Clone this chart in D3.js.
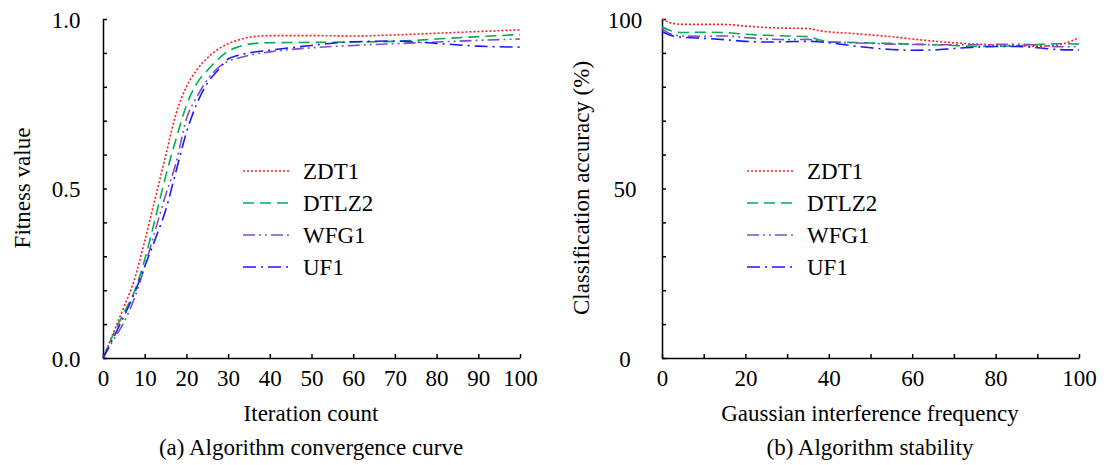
<!DOCTYPE html>
<html>
<head>
<meta charset="utf-8">
<script src="https://cdn.jsdelivr.net/npm/d3@7"></script>
<style>
  body { margin: 0; background: #fff; }
  svg text { font-family: "Liberation Serif", "Times New Roman", serif; fill: #000; }
</style>
</head>
<body>
<div id="chart"></div>
<script>
// (a) convergence
const iterX = [0, 2.5, 5, 7.5, 10, 12.5, 15, 17.5, 20, 22.5, 25, 27.5, 30, 32.5, 35, 40, 50, 60, 70, 80, 90, 100];
const zdt1Fit = [0, 0.075, 0.15, 0.23, 0.345, 0.47, 0.595, 0.72, 0.80, 0.85, 0.885, 0.91, 0.927, 0.938, 0.946, 0.951, 0.951, 0.950, 0.953, 0.958, 0.963, 0.968];
const dtlz2Fit = [0, 0.07, 0.133, 0.195, 0.29, 0.41, 0.535, 0.645, 0.745, 0.81, 0.848, 0.88, 0.905, 0.918, 0.926, 0.930, 0.931, 0.932, 0.934, 0.941, 0.948, 0.954];
const wfg1Fit = [0, 0.053, 0.105, 0.175, 0.27, 0.375, 0.48, 0.575, 0.705, 0.77, 0.82, 0.855, 0.875, 0.885, 0.893, 0.903, 0.915, 0.922, 0.927, 0.932, 0.937, 0.941];
const uf1Fit = [0, 0.06, 0.123, 0.19, 0.27, 0.35, 0.435, 0.55, 0.665, 0.75, 0.81, 0.848, 0.882, 0.893, 0.9, 0.908, 0.922, 0.933, 0.935, 0.928, 0.92, 0.917];

// (b) stability
const freqX = [0, 2, 5, 10, 15, 20, 25, 30, 35, 37.5, 40, 45, 50, 55, 60, 65, 70, 75, 80, 85, 90, 95, 97.5, 100];
const zdt1Acc = [100, 98.9, 98.4, 98.4, 98.4, 97.9, 97.5, 97.3, 97.2, 96.6, 96.2, 95.8, 95.3, 94.8, 94.1, 93.5, 93.0, 92.6, 92.3, 92.1, 92.0, 92.3, 93.2, 94.5];
const dtlz2Acc = [97.8, 96.6, 96.0, 96.1, 96.0, 95.5, 95.2, 95.0, 94.8, 93.9, 93.3, 93.1, 92.9, 92.8, 92.6, 92.4, 92.2, 91.9, 91.9, 92.1, 92.5, 92.7, 92.7, 92.6];
const wfg1Acc = [97.2, 95.6, 95.0, 94.9, 95.0, 94.5, 94.1, 93.9, 94.0, 93.6, 93.2, 93.0, 92.8, 92.6, 92.5, 92.4, 92.4, 92.4, 92.5, 92.6, 92.3, 91.8, 91.8, 91.9];
const uf1Acc = [96.3, 95.2, 94.6, 94.3, 93.9, 93.4, 93.2, 93.3, 93.4, 93.3, 93.0, 92.2, 91.5, 91.0, 90.8, 90.9, 91.3, 91.7, 91.9, 91.9, 91.5, 91.0, 90.9, 90.9];

const seriesNames = ["ZDT1", "DTLZ2", "WFG1", "UF1"];
const seriesColors = ["#ff1a1a", "#00b050", "#8050c0", "#1a1aff"];
const seriesDash = ["2,2", "11,6", "12,4,2,4,2,4", "13,5,2,5"];
const serif = "'Liberation Serif', 'Times New Roman', serif";
const fs = 23;

const svg = d3.select("#chart").append("svg")
    .attr("width", 1104)
    .attr("height", 465)
    .attr("font-family", serif);

function drawPanel(opt) {
    const x = d3.scaleLinear().domain([0, 100]).range([opt.left, opt.left + 417]);
    const y = d3.scaleLinear().domain(opt.yDomain).range([358, 19]);
    const g = svg.append("g");

    // x axis, inward ticks
    const xAxis = g.append("g")
        .attr("transform", `translate(0,${y(opt.yDomain[0])})`)
        .call(d3.axisBottom(x).tickValues(d3.range(0, 101, 10)).tickSize(-4).tickSizeOuter(0)
            .tickFormat(d => (d % opt.xLabelStep === 0 ? d : "")));
    // y axis
    const yStep = (opt.yDomain[1] - opt.yDomain[0]) / 10;
    const yAxis = g.append("g")
        .attr("transform", `translate(${opt.left},0)`)
        .call(d3.axisLeft(y).tickValues(d3.range(0, 11).map(i => opt.yDomain[0] + i * yStep))
            .tickSize(-4).tickSizeOuter(0)
            .tickFormat((d, i) => (i % 5 === 0 ? opt.yFormat(d) : "")));

    [xAxis, yAxis].forEach(a => {
        a.attr("font-family", serif).attr("font-size", fs);
        a.select(".domain").attr("stroke", "#000").attr("stroke-width", 1.5);
        a.selectAll(".tick line").attr("stroke", "#000").attr("stroke-width", 1.5);
        a.selectAll("text").attr("fill", "#000");
    });
    xAxis.selectAll("text").attr("y", 12).attr("dy", "0.71em");
    yAxis.selectAll("text").attr("x", -37).attr("dy", "0.35em").attr("text-anchor", "middle");

    const line = d3.line()
        .x((d, i) => x(opt.xs[i]))
        .y(d => y(d))
        .curve(d3.curveMonotoneX);

    opt.series.forEach((s, i) => {
        g.append("path")
            .datum(s)
            .attr("fill", "none")
            .attr("stroke", seriesColors[i])
            .attr("stroke-width", 1.6)
            .attr("stroke-dasharray", seriesDash[i])
            .attr("d", line);
    });

    // legend
    const lg = g.append("g").attr("transform", `translate(${opt.legendX},171)`);
    seriesNames.forEach((name, i) => {
        lg.append("line")
            .attr("x1", 0).attr("x2", 47)
            .attr("y1", i * 32).attr("y2", i * 32)
            .attr("stroke", seriesColors[i])
            .attr("stroke-width", 1.6)
            .attr("stroke-dasharray", seriesDash[i]);
        lg.append("text")
            .attr("x", 60).attr("y", i * 32)
            .attr("dy", "0.35em")
            .attr("font-size", fs)
            .text(name);
    });

    const cx = opt.left + 208;
    g.append("text")
        .attr("x", cx).attr("y", 421)
        .attr("text-anchor", "middle")
        .attr("font-size", fs)
        .text(opt.xTitle);
    g.append("text")
        .attr("x", cx).attr("y", 455)
        .attr("text-anchor", "middle")
        .attr("font-size", fs)
        .text(opt.caption);
    g.append("text")
        .attr("transform", `translate(${opt.left - 81},188) rotate(-90)`)
        .attr("text-anchor", "middle")
        .attr("dy", "0.35em")
        .attr("font-size", fs)
        .text(opt.yTitle);
}

drawPanel({
    left: 103,
    xs: iterX,
    yDomain: [0, 1],
    yFormat: d3.format(".1f"),
    xLabelStep: 10,
    series: [zdt1Fit, dtlz2Fit, wfg1Fit, uf1Fit],
    legendX: 243,
    xTitle: "Iteration count",
    caption: "(a) Algorithm convergence curve",
    yTitle: "Fitness value"
});

drawPanel({
    left: 662,
    xs: freqX,
    yDomain: [0, 100],
    yFormat: d3.format("d"),
    xLabelStep: 20,
    series: [zdt1Acc, dtlz2Acc, wfg1Acc, uf1Acc],
    legendX: 747,
    xTitle: "Gaussian interference frequency",
    caption: "(b) Algorithm stability",
    yTitle: "Classification accuracy (%)"
});
</script>
</body>
</html>
